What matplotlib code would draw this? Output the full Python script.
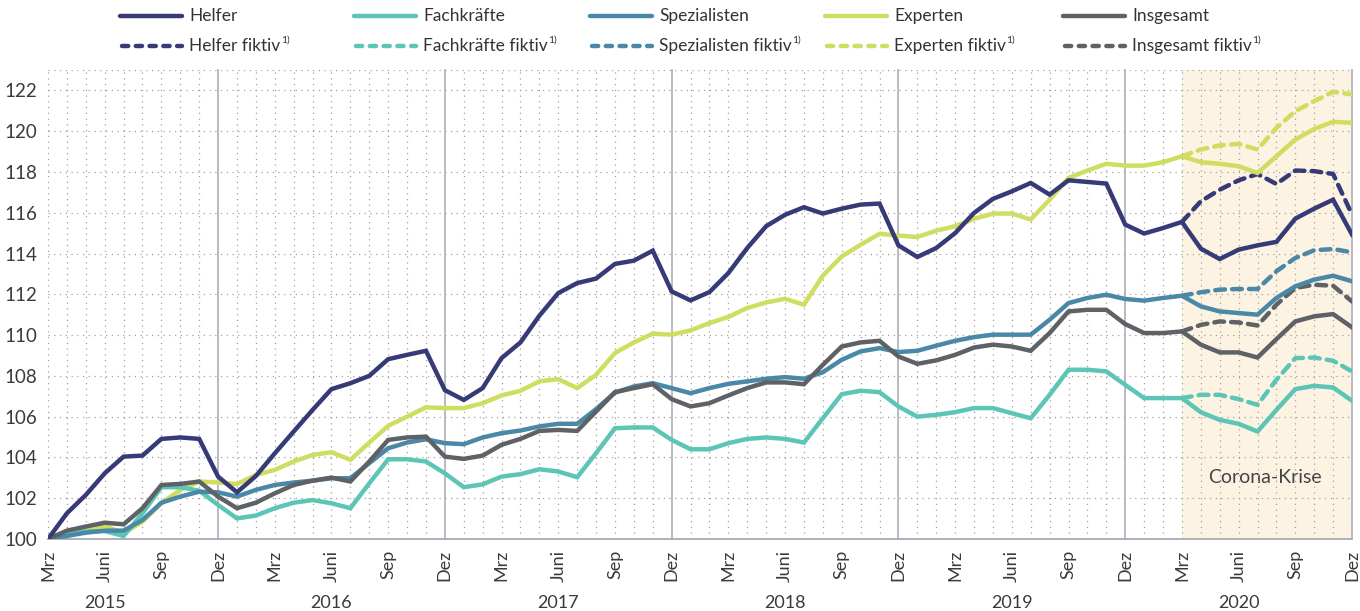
import matplotlib
matplotlib.use("Agg")
import matplotlib.pyplot as plt
from matplotlib.lines import Line2D
import numpy as np

plt.rcParams['font.family'] = ['Lato', 'DejaVu Sans']
plt.rcParams['mathtext.default'] = 'regular'

months = ["Mrz", "Apr", "Mai", "Juni", "Juli", "Aug", "Sep", "Okt", "Nov", "Dez", "Jan", "Feb"]
years = ["2015", "2016", "2017", "2018", "2019", "2020"]
tick_names = ["Mrz", "Juni", "Sep", "Dez"]

helfer = [100.0, 101.26, 102.16, 103.22, 104.04, 104.09, 104.91, 104.98, 104.91, 103.06,
          102.29, 103.09, 104.2, 105.27, 106.33, 107.35, 107.64, 108.0, 108.82, 109.03,
          109.23, 107.3, 106.82, 107.4, 108.87, 109.64, 110.95, 112.06, 112.55, 112.77,
          113.49, 113.65, 114.14, 112.14, 111.7, 112.11, 113.04, 114.27, 115.34, 115.9,
          116.27, 115.96, 116.2, 116.4, 116.45, 114.4, 113.83, 114.27, 115.0, 115.99,
          116.68, 117.05, 117.46, 116.89, 117.59, 117.51, 117.43, 115.42, 114.98, 115.25,
          115.55, 114.24, 113.73, 114.19, 114.4, 114.57, 115.71, 116.2, 116.64, 114.93]
fachkraefte = [100.0, 100.28, 100.36, 100.39, 100.15, 101.26, 102.54, 102.54, 102.37, 101.67,
               101.01, 101.15, 101.51, 101.78, 101.91, 101.75, 101.51, 102.73, 103.91, 103.91,
               103.8, 103.22, 102.54, 102.68, 103.06, 103.18, 103.42, 103.31, 103.03, 104.21,
               105.43, 105.47, 105.47, 104.86, 104.4, 104.4, 104.7, 104.91, 104.98, 104.91,
               104.73, 105.92, 107.1, 107.27, 107.2, 106.5, 106.0, 106.09, 106.22, 106.42,
               106.42, 106.17, 105.92, 107.07, 108.3, 108.3, 108.22, 107.56, 106.91, 106.91,
               106.91, 106.22, 105.84, 105.65, 105.27, 106.33, 107.35, 107.51, 107.43, 106.78]
spezialisten = [100.0, 100.15, 100.31, 100.41, 100.41, 100.93, 101.78, 102.08, 102.32, 102.29,
                102.08, 102.41, 102.65, 102.77, 102.86, 102.98, 102.98, 103.72, 104.45, 104.73,
                104.89, 104.7, 104.65, 104.98, 105.19, 105.32, 105.52, 105.65, 105.65, 106.37,
                107.18, 107.48, 107.64, 107.4, 107.15, 107.4, 107.61, 107.73, 107.86, 107.94,
                107.86, 108.18, 108.79, 109.2, 109.36, 109.17, 109.23, 109.48, 109.72, 109.9,
                110.02, 110.02, 110.02, 110.75, 111.57, 111.82, 111.98, 111.77, 111.69, 111.82,
                111.93, 111.41, 111.16, 111.08, 111.0, 111.82, 112.39, 112.72, 112.91, 112.64]
experten = [100.0, 100.28, 100.44, 100.65, 100.28, 100.85, 101.75, 102.41, 102.82, 102.77,
            102.7, 103.14, 103.39, 103.8, 104.12, 104.26, 103.88, 104.73, 105.55, 106.0,
            106.46, 106.42, 106.42, 106.66, 107.04, 107.27, 107.73, 107.84, 107.4, 108.05,
            109.12, 109.64, 110.07, 110.02, 110.23, 110.59, 110.89, 111.33, 111.6, 111.78,
            111.49, 112.91, 113.86, 114.43, 114.97, 114.88, 114.81, 115.12, 115.34, 115.7,
            115.96, 115.96, 115.67, 116.64, 117.71, 118.07, 118.4, 118.31, 118.31, 118.48,
            118.77, 118.48, 118.4, 118.28, 117.95, 118.77, 119.59, 120.11, 120.46, 120.41]
insgesamt = [100.0, 100.41, 100.61, 100.8, 100.72, 101.51, 102.65, 102.7, 102.82, 102.08,
             101.51, 101.78, 102.24, 102.65, 102.86, 103.01, 102.82, 103.8, 104.86, 104.98,
             105.02, 104.04, 103.93, 104.09, 104.62, 104.91, 105.3, 105.35, 105.3, 106.25,
             107.2, 107.4, 107.59, 106.86, 106.5, 106.66, 107.04, 107.4, 107.68, 107.68,
             107.59, 108.54, 109.44, 109.64, 109.72, 108.95, 108.59, 108.76, 109.03, 109.39,
             109.53, 109.44, 109.23, 110.1, 111.16, 111.24, 111.24, 110.54, 110.1, 110.1,
             110.18, 109.53, 109.15, 109.15, 108.9, 109.8, 110.67, 110.92, 111.03, 110.38]

# fictitious series, Mrz 2020 .. Dez 2020
helfer_fiktiv = [115.55, 116.56, 117.13, 117.59, 117.9, 117.41, 118.07, 118.04, 117.9, 115.91]
fachkraefte_fiktiv = [106.91, 107.07, 107.07, 106.86, 106.58, 107.81, 108.87, 108.9, 108.74, 108.22]
spezialisten_fiktiv = [111.93, 112.1, 112.23, 112.26, 112.26, 113.13, 113.78, 114.16, 114.22, 114.06]
experten_fiktiv = [118.77, 119.1, 119.3, 119.38, 119.1, 120.16, 120.98, 121.47, 121.93, 121.8]
insgesamt_fiktiv = [110.18, 110.5, 110.67, 110.62, 110.47, 111.49, 112.31, 112.47, 112.42, 111.65]

names = ["Helfer", "Fachkräfte", "Spezialisten", "Experten", "Insgesamt"]
colors = ["#363b77", "#5cc5b5", "#4a88a8", "#cfdd60", "#5e6165"]
actual = [helfer, fachkraefte, spezialisten, experten, insgesamt]
fiktiv = [helfer_fiktiv, fachkraefte_fiktiv, spezialisten_fiktiv, experten_fiktiv, insgesamt_fiktiv]

n = len(helfer)
x = np.arange(n)
xf = np.arange(n - len(helfer_fiktiv), n)

W, H = 1360, 611
fig = plt.figure(figsize=(W / 100, H / 100), dpi=100)
ax = fig.add_axes([48/W, 1 - 539/H, (1352-48)/W, (539-70)/H])

ax.set_xlim(0, n - 1)
ax.set_ylim(100, 123)

# corona shading
ax.axvspan(xf[0], n - 1, color="#fcf3e3", zorder=0, lw=0)
ax.text(64.4, 103.0, "Corona-Krise", ha="center", va="center",
        fontsize=14, color="#444444", zorder=1)

# grid
grid_kw = dict(color="#a0a0a0", lw=0.9, linestyle=(0, (1, 3.6)), zorder=1)
for xi in x:
    if months[xi % 12] != "Dez":
        ax.axvline(xi, **grid_kw)
for yv in np.arange(102, 124, 2):
    ax.axhline(yv, **grid_kw)
ax.axhline(123, **grid_kw)
for xi in x:
    if months[xi % 12] == "Dez":
        ax.axvline(xi, color="#b3b4be", lw=1.3, zorder=1, clip_on=False)

for vals, fv, c in zip(actual, fiktiv, colors):
    ax.plot(xf, fv, color=c, lw=3.2, linestyle=(0, (2.2, 1.6)), zorder=3,
            dash_capstyle="round")
for k in [3, 1, 2, 4, 0]:
    ax.plot(x, actual[k], color=colors[k], lw=3.2, zorder=4, solid_joinstyle="miter")

for s in ["top", "left", "right"]:
    ax.spines[s].set_visible(False)
ax.spines["bottom"].set_color("#a8a9b3")
ax.spines["bottom"].set_linewidth(1.3)

ax.set_yticks(np.arange(100, 123, 2))
ax.tick_params(axis="y", length=0, labelsize=13.5, labelcolor="#3a3a3a", pad=8)
tick_pos = [i for i in x if months[i % 12] in tick_names]
ax.set_xticks(tick_pos)
ax.set_xticklabels([months[i % 12] for i in tick_pos], rotation=90, va="top", ha="center")
ax.tick_params(axis="x", length=0, labelsize=13, labelcolor="#3a3a3a", pad=8)

for k, yr in enumerate(years):
    ax.text(3 + 12 * k, -0.137, yr, transform=ax.get_xaxis_transform(), ha="center",
            va="center", fontsize=13, color="#3a3a3a")

# legend (manual, two rows x five columns)
col_x = [120, 354, 590, 825, 1063]
row_y = [16, 46]
fig.canvas.draw()
for k in range(5):
    x0 = col_x[k]
    for r in range(2):
        yy = 1 - row_y[r] / H
        if r == 0:
            ln = Line2D([x0 / W, (x0 + 62) / W], [yy, yy], color=colors[k], lw=3.2,
                        solid_capstyle="round", transform=fig.transFigure)
            label = names[k]
        else:
            ln = Line2D([(x0 + 2) / W, (x0 + 62) / W], [yy, yy], color=colors[k], lw=3.2,
                        linestyle=(0, (1.4, 1.7)), dash_capstyle="round",
                        transform=fig.transFigure)
            label = names[k] + " fiktiv"
        fig.add_artist(ln)
        t = fig.text((x0 + 69) / W, yy, label, ha="left", va="center", fontsize=12.5,
                     color="#333333")
        if r == 1:
            bb = t.get_window_extent(renderer=fig.canvas.get_renderer())
            fig.text((bb.x1 + 0.5) / W, yy + 1 / H, "1)", ha="left", va="bottom",
                     fontsize=7.5, color="#333333")

fig.savefig("out.png", dpi=100)
